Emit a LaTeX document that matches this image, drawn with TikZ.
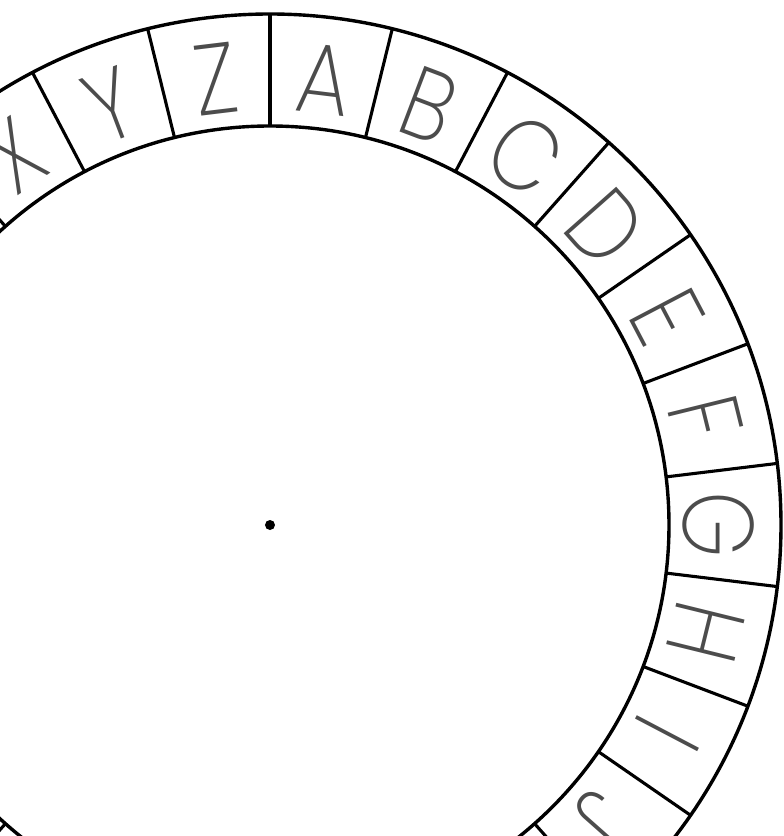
\documentclass[tikz,border=0pt]{standalone}
\usepackage{fontspec}
\usetikzlibrary{calc}
\setmainfont{Poppins}[UprightFont=* ExtraLight]
\begin{document}
\begin{tikzpicture}[x=1pt,y=1pt,
  ring/.style={line width=3.4pt,black},
  divider/.style={line width=3.1pt,black},
  letter/.style={inner sep=0pt,anchor=center,text=black!70,font=\fontsize{100}{100}\selectfont}]
\useasboundingbox (-270,-311) rectangle (514,525);
\clip (-270,-311) rectangle (514,525);
\fill[white] (-270,-311) rectangle (514,525);
\node[circle,fill=black,inner sep=0pt,minimum size=10pt] (c) at (0,0) {};
\draw[ring] (c.center) circle[radius=511];
\draw[ring] (c.center) circle[radius=399];
\foreach \k in {0,...,25}{
  \draw[divider] ($(c.center)+({90-13.846*\k}:399)$) -- ($(c.center)+({90-13.846*\k}:511)$);
}
\foreach \L [count=\i from 0] in {A,B,C,D,E,F,G,H,I,J,K,L,M,N,O,P,Q,R,S,T,U,V,W,X,Y,Z}{
  \pgfmathsetmacro{\ang}{90-6.923-13.846*\i}
  \node[letter,rotate=\ang-90,xscale=0.85] (l\i) at (\ang:449) {\L};
}
\end{tikzpicture}
\end{document}
